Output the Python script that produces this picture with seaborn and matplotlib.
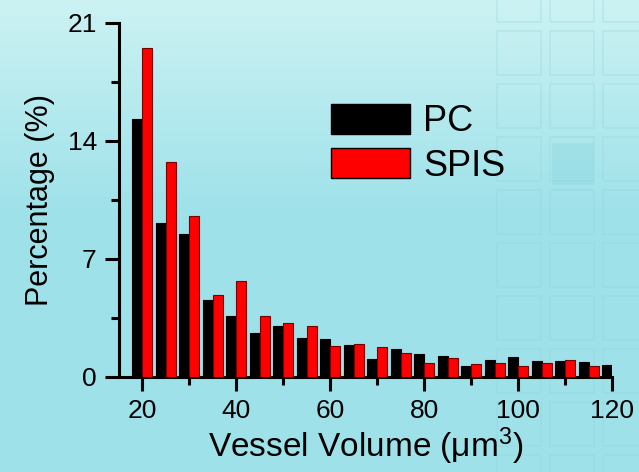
import matplotlib
matplotlib.use('Agg')
import matplotlib.pyplot as plt
from matplotlib.patches import Rectangle, Patch
import seaborn as sns
import numpy as np
import pandas as pd

# vessel volume bins (um^3) and percentage per group
volume = [20, 25, 30, 35, 40, 45, 50, 55, 60, 65, 70,
          75, 80, 85, 90, 95, 100, 105, 110, 115, 120]
pc = [15.3, 9.1, 8.45, 4.55, 3.6, 2.6, 3.0, 2.3, 2.2, 1.85, 1.05,
      1.65, 1.35, 1.2, 0.6, 1.0, 1.15, 0.9, 0.9, 0.85, 0.7]
# last SPIS bar (120) falls outside the axis in the original
spis = [19.5, 12.7, 9.5, 4.85, 5.65, 3.6, 3.15, 3.0, 1.8, 1.95, 1.75,
        1.4, 0.8, 1.1, 0.75, 0.8, 0.65, 0.8, 0.95, 0.65]
groups = ['PC', 'SPIS']
colors = {'PC': 'black', 'SPIS': '#ff0000'}

df = pd.concat([
    pd.DataFrame({'volume': volume, 'pct': pc, 'group': 'PC'}),
    pd.DataFrame({'volume': volume[:len(spis)], 'pct': spis, 'group': 'SPIS'}),
], ignore_index=True)

sns.set_style('ticks')
plt.rcParams['font.family'] = ['Liberation Sans', 'DejaVu Sans']
plt.rcParams['mathtext.default'] = 'regular'
plt.rcParams['text.color'] = 'black'
plt.rcParams['axes.labelcolor'] = 'black'

fig = plt.figure(figsize=(6.39, 4.72), dpi=100)

# background: light cyan gradient with faint squares
bg = fig.add_axes([0, 0, 1, 1])
grad = np.linspace(0, 1, 256).reshape(-1, 1)
top = np.array([0.80, 0.95, 0.955])
bot = np.array([0.62, 0.885, 0.915])
img = top + (bot - top) * np.clip(grad * 2.2, 0, 1)[..., None]
bg.imshow(img.reshape(256, 1, 3), aspect='auto', extent=[0, 1, 0, 1])
for cx in [497, 550, 603]:
    for cy in range(-25, 472, 53):
        bg.add_patch(Rectangle((cx / 639, 1 - (cy + 47) / 472), 44 / 639, 44 / 472,
                               facecolor='none', edgecolor='#8fd3da', lw=1.2, alpha=0.3))
bg.add_patch(Rectangle((552 / 639, 1 - 185 / 472), 42 / 639, 42 / 472,
                       facecolor='#88d6dd', edgecolor='none', alpha=0.35))
bg.set_xlim(0, 1)
bg.set_ylim(0, 1)
bg.axis('off')

ax = fig.add_axes([119 / 639, (472 - 376.5) / 472, 493 / 639, 354 / 472])
ax.set_facecolor('none')

sns.barplot(data=df, x='volume', y='pct', hue='group', hue_order=groups,
            native_scale=True, palette=colors, saturation=1, width=0.85,
            errorbar=None, legend=False, ax=ax, zorder=3)
for cont, g in zip(ax.containers, groups):
    for bar in cont:
        bar.set_edgecolor('black' if g == 'PC' else '#7a0000')
        bar.set_linewidth(0.8)

ax.set_xlim(15, 120)
ax.set_ylim(0, 21)
ax.set_xticks([20, 40, 60, 80, 100, 120])
ax.set_xticks([30, 50, 70, 90, 110], minor=True)
ax.set_yticks([0, 7, 14, 21])
ax.set_yticks([3.5, 10.5, 17.5], minor=True)
sns.despine(ax=ax)
for s in ['left', 'bottom']:
    ax.spines[s].set_linewidth(2.2)
    ax.spines[s].set_color('black')
ax.tick_params(which='major', direction='out', length=10, width=2.2,
               labelsize=19, colors='black', pad=6)
ax.tick_params(which='minor', direction='out', length=6, width=2.2, colors='black')

ax.set_xlabel('Vessel Volume (μm$^{3}$)', fontsize=24, labelpad=2)
ax.set_ylabel('Percentage (%)', fontsize=22, labelpad=9)

handles = [Patch(facecolor='black', edgecolor='black'),
           Patch(facecolor='#ff0000', edgecolor='black')]
ax.legend(handles, groups, loc='upper left', bbox_to_anchor=(0.43, 0.77),
          frameon=False, fontsize=26, handlelength=2.2, handleheight=0.9,
          handletextpad=0.35, labelspacing=0.25, borderpad=0, borderaxespad=0)

plt.savefig('out.png', dpi=100)
